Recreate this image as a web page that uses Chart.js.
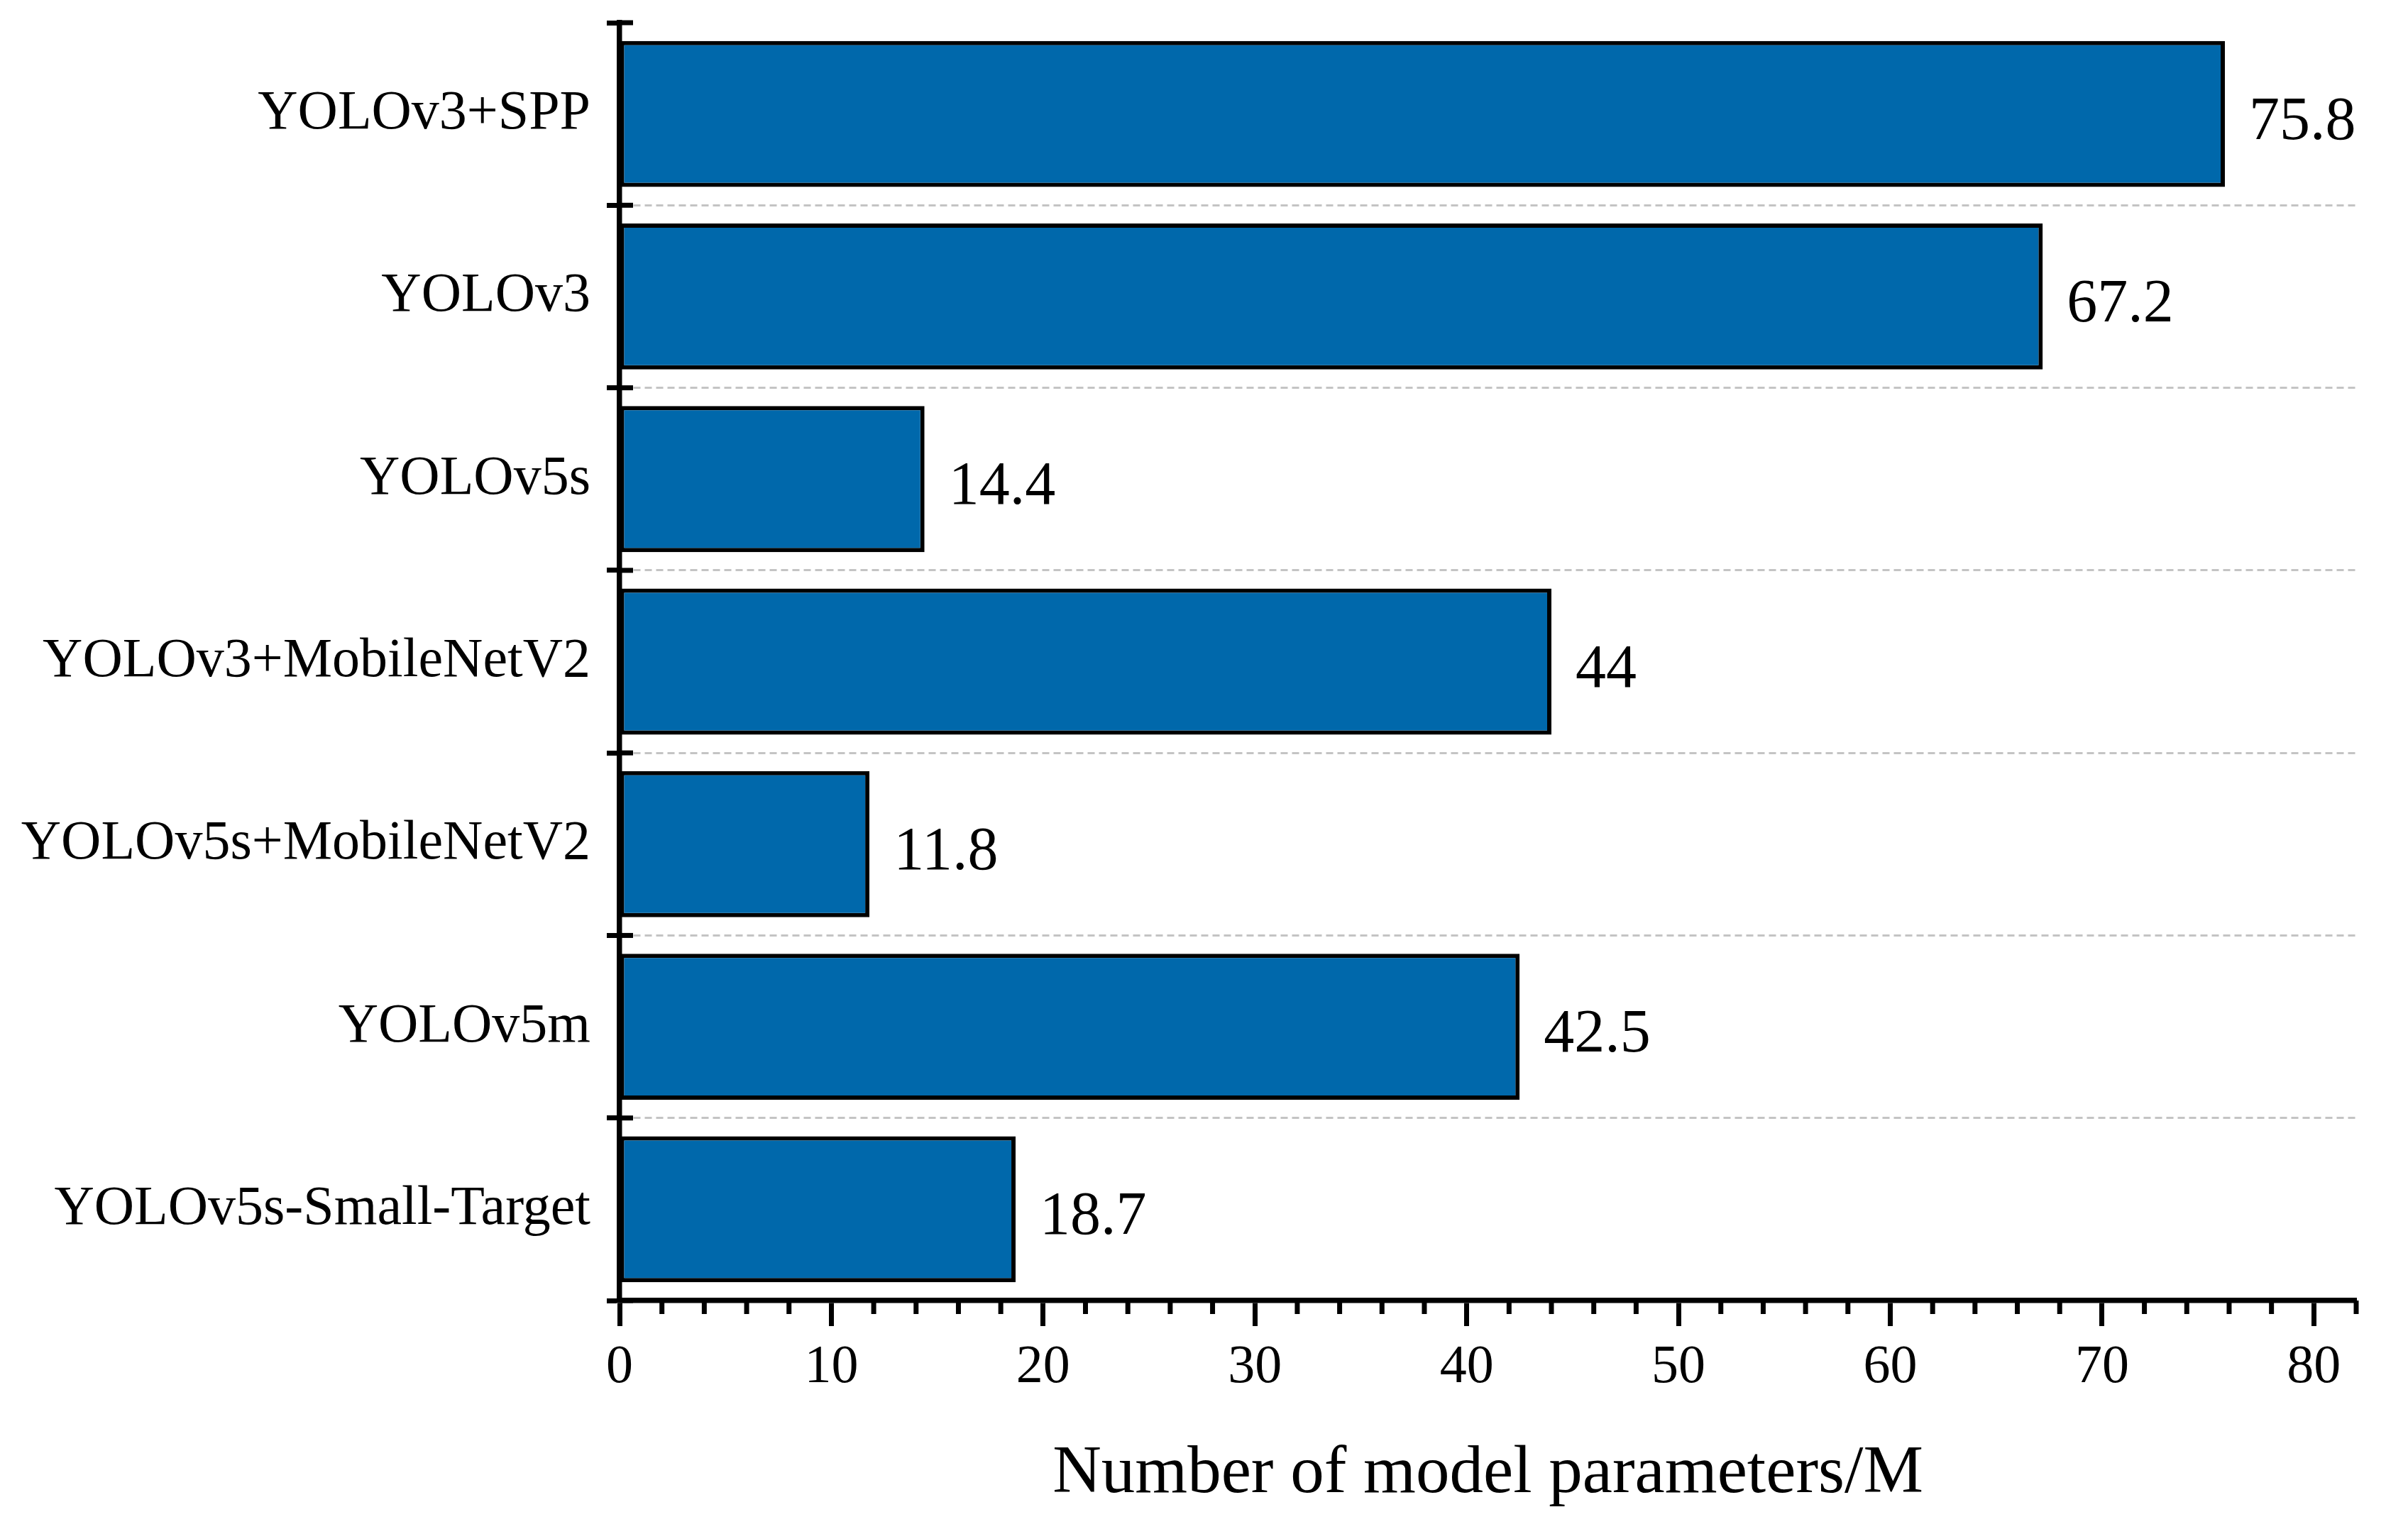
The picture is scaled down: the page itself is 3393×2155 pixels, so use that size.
<!DOCTYPE html>
<html>
<head>
<meta charset="utf-8">
<script src="https://cdn.jsdelivr.net/npm/chart.js@4.4.1/dist/chart.umd.min.js"></script>
<style>
html,body{margin:0;padding:0;background:#fff;}
#wrap{width:3393px;height:2155px;}
</style>
</head>
<body>
<div id="wrap"><canvas id="c" width="3393" height="2155"></canvas></div>
<script>
const categories = ['YOLOv3+SPP', 'YOLOv3', 'YOLOv5s', 'YOLOv3+MobileNetV2', 'YOLOv5s+MobileNetV2', 'YOLOv5m', 'YOLOv5s-Small-Target'];
const paramValues = [75.8, 67.2, 14.4, 44, 11.8, 42.5, 18.7];
const valueLabels = ['75.8', '67.2', '14.4', '44', '11.8', '42.5', '18.7'];
const xMajorTicks = [0, 10, 20, 30, 40, 50, 60, 70, 80];
const xAxisMin = 0;
const xAxisMax = 82;
const xMinorStep = 2;
const xTitle = 'Number of model parameters/M';

const FONT = "'Liberation Serif', 'Times New Roman', serif";

const decor = {
  id: 'decor',
  afterDatasetsDraw(chart) {
    const ctx = chart.ctx;
    const xs = chart.scales.x, ys = chart.scales.y;
    ctx.save();
    ctx.strokeStyle = '#000';
    ctx.lineWidth = 7;
    ctx.lineCap = 'butt';
    // inner half of the category boundary ticks
    for (let i = 0; i <= categories.length; i++) {
      const py = ys.getPixelForValue(i - 0.5);
      ctx.beginPath();
      ctx.moveTo(xs.left, py);
      ctx.lineTo(xs.left + 19, py);
      ctx.stroke();
    }
    // minor x ticks
    xs.ticks.forEach(t => {
      if (!xMajorTicks.includes(t.value)) {
        const px = xs.getPixelForValue(t.value);
        ctx.beginPath();
        ctx.moveTo(px, xs.top);
        ctx.lineTo(px, xs.top + 19);
        ctx.stroke();
      }
    });
    // value labels
    const meta = chart.getDatasetMeta(0);
    ctx.fillStyle = '#000';
    ctx.font = '86px ' + FONT;
    ctx.textAlign = 'left';
    ctx.textBaseline = 'alphabetic';
    meta.data.forEach((bar, i) => {
      ctx.fillText(valueLabels[i], bar.x + 34, bar.y + 35);
    });
    ctx.restore();
  }
};

new Chart(document.getElementById('c'), {
  type: 'bar',
  data: {
    labels: categories,
    datasets: [{
      data: paramValues,
      backgroundColor: '#0068AB',
      borderColor: '#000',
      borderWidth: 6,
      borderSkipped: false,
      barPercentage: 0.8,
      categoryPercentage: 1.0
    }]
  },
  options: {
    indexAxis: 'y',
    responsive: false,
    animation: false,
    devicePixelRatio: 1,
    layout: { padding: { top: 32, right: 73, left: 0, bottom: 0 } },
    plugins: { legend: { display: false }, tooltip: { enabled: false } },
    scales: {
      x: {
        type: 'linear',
        min: xAxisMin,
        max: xAxisMax,
        ticks: {
          stepSize: xMinorStep,
          autoSkip: false,
          maxRotation: 0,
          minRotation: 0,
          padding: 13,
          color: '#000',
          font: { family: FONT, size: 76 },
          callback: v => xMajorTicks.includes(v) ? String(v) : ''
        },
        grid: {
          drawOnChartArea: false,
          tickLength: 36,
          tickWidth: 7,
          tickColor: c => (c.tick && xMajorTicks.includes(c.tick.value)) ? '#000' : 'rgba(0,0,0,0)'
        },
        border: { color: '#000', width: 7.5 },
        title: {
          display: true,
          text: xTitle,
          color: '#000',
          font: { family: FONT, size: 95 },
          padding: { top: 0, bottom: 20 }
        },
        afterFit: s => { s.height = 322; s.paddingLeft = 0; s.paddingRight = 0; }
      },
      y: {
        ticks: {
          autoSkip: false,
          padding: 23,
          color: '#000',
          font: { family: FONT, size: 78 }
        },
        grid: {
          color: c => (c.index === undefined || c.index === 0) ? 'rgba(0,0,0,0)' : '#c4c4c4',
          lineWidth: 3,
          tickLength: 18,
          tickWidth: 7,
          tickColor: '#000'
        },
        border: { color: '#000', width: 7.5, dash: [10, 6] },
        afterFit: s => { s.width = 873; s.paddingTop = 0; s.paddingBottom = 0; }
      }
    }
  },
  plugins: [decor]
});
</script>
</body>
</html>
